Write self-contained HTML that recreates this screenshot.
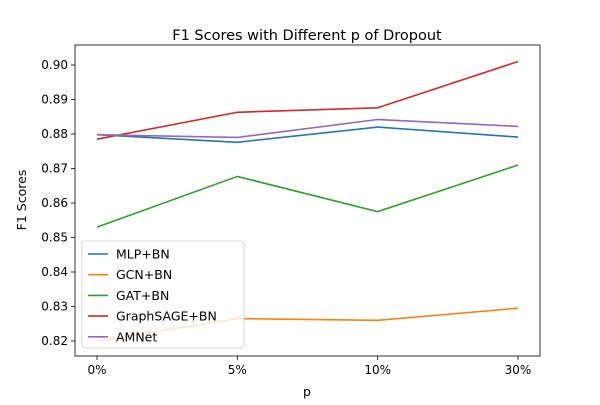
<!DOCTYPE html>
<html><head><meta charset="utf-8"><style>
body{margin:0;background:#fff;font-family:"Liberation Sans","DejaVu Sans",sans-serif;}
svg text{font-family:"DejaVu Sans","Liberation Sans",sans-serif;}
</style></head><body>
<svg id="chart" width="600" height="400" xmlns="http://www.w3.org/2000/svg">
<rect width="600" height="400" fill="#fff"/>
</svg>
<script>
const categories = ["0%","5%","10%","30%"];
const seriesNames = ["MLP+BN","GCN+BN","GAT+BN","GraphSAGE+BN","AMNet"];
const mlpValues = [0.8798,0.8776,0.8820,0.8791];
const gcnValues = [0.8200,0.8265,0.8260,0.8295];
const gatValues = [0.8530,0.8677,0.8575,0.8710];
const sageValues = [0.8785,0.8863,0.8876,0.9010];
const amnetValues = [0.8798,0.8790,0.8842,0.8822];
const yTicks = [0.82,0.83,0.84,0.85,0.86,0.87,0.88,0.89,0.90];
const colors = ["#1f77b4","#ff7f0e","#2ca02c","#d62728","#9467bd"];
const allSeries = [mlpValues,gcnValues,gatValues,sageValues,amnetValues];

const svg = document.getElementById('chart');
const NS = "http://www.w3.org/2000/svg";
const L=75,R=540,T=45,B=356;
function xScale(i){return 97 + i*(518-97)/(categories.length-1);}
function yScale(v){return 341 - (v-0.82)*3450;}
function mk(tag,attrs,parent){const e=document.createElementNS(NS,tag);for(const k in attrs)e.setAttribute(k,attrs[k]);(parent||svg).appendChild(e);return e;}

const title=mk('text',{x:307,y:40,'text-anchor':'middle','font-size':'14.5',fill:'#000'});


title.textContent='F1 Scores with Different p of Dropout';

yTicks.forEach(v=>{
  const y=yScale(v);
  const t=mk('line',{x1:L-4,x2:L,y1:y,y2:y,stroke:'#000','stroke-width':0.8});
  
  
  const lb=mk('text',{x:L-7,y:y+4,'text-anchor':'end','font-size':'12',fill:'#000'});
  
  
  lb.textContent=v.toFixed(2);
});
categories.forEach((c,i)=>{
  const x=xScale(i);
  const t=mk('line',{x1:x,x2:x,y1:B,y2:B+4,stroke:'#000','stroke-width':0.8});
  
  
  const lb=mk('text',{x:x,y:B+18,'text-anchor':'middle','font-size':'12',fill:'#000'});
  
  
  lb.textContent=c;
});
const xt=mk('text',{x:307,y:396,'text-anchor':'middle','font-size':'12.5',fill:'#000'});


xt.textContent='p';
const yt=mk('text',{x:26,y:200,'text-anchor':'middle','font-size':'12.5',fill:'#000',transform:'rotate(-90 26 200)'});


yt.textContent='F1 Scores';

allSeries.forEach((vals,s)=>{
  const pts=vals.map((v,i)=>xScale(i)+','+yScale(v)).join(' ');
  const pl=mk('polyline',{points:pts,fill:'none',stroke:colors[s],'stroke-width':1.6});
  
  
});

const frame=mk('rect',{x:L,y:T,width:R-L,height:B-T,fill:'none',stroke:'#000','stroke-width':0.8});



const lg=mk('g',{});


mk('rect',{x:82,y:241,width:162,height:107,rx:3,fill:'#fff','fill-opacity':0.8,stroke:'#ccc','stroke-width':0.8},lg);
seriesNames.forEach((n,s)=>{
  const y=254+s*20.7;
  const ln=mk('line',{x1:88,x2:108,y1:y,y2:y,stroke:colors[s],'stroke-width':1.6},lg);
  
  
  const tx=mk('text',{x:116,y:y+4.5,'font-size':'12.5',fill:'#000'},lg);
  
  
  tx.textContent=n;
});
</script>
</body></html>
